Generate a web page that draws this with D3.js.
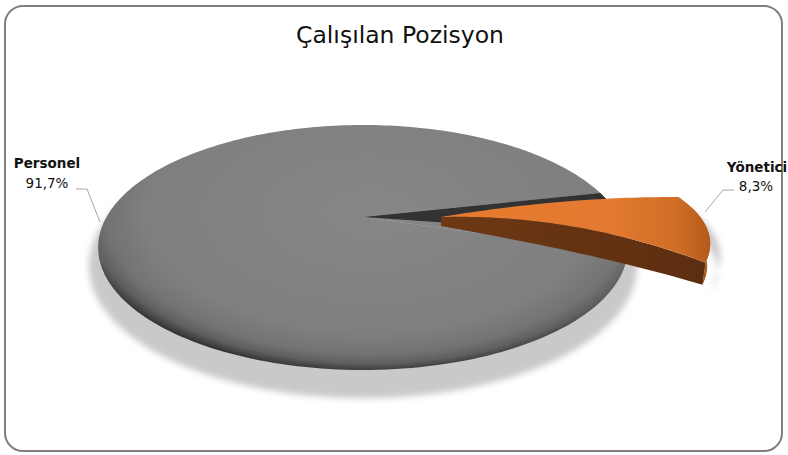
<!DOCTYPE html>
<html>
<head>
<meta charset="utf-8">
<script src="https://cdn.jsdelivr.net/npm/d3@7"></script>
<style>
  html, body { margin: 0; padding: 0; background: #ffffff; }
  svg { display: block; }
</style>
</head>
<body>
<svg id="chart" width="788" height="455"></svg>
<script>
// Position survey: share of respondents by job position
const chartTitle = "Çalışılan Pozisyon";
const categories = ["Personel", "Yönetici"];
const shares = [91.7, 8.3];

const svg = d3.select("#chart");
const defs = svg.append("defs");

// Tilted disc with perspective: (theta, r) on the unit disc -> screen
const A = 256.5, B = 114.9, K = 0.249;
function project(cx, cy, r, theta) {
  const u = r * Math.cos(theta), v = r * Math.sin(theta);
  const w = 1 - K * v;
  return [cx + A * u / w, cy + B * v / w];
}
function arcPoints(cx, cy, r, t0, t1, n) {
  const pts = [];
  for (let i = 0; i <= n; i++) pts.push(project(cx, cy, r, t0 + (t1 - t0) * i / n));
  return pts;
}
const line = d3.line();

// slice angles from d3.pie (0 = 12 o'clock, clockwise); theta = angle - 90deg
const start = 107.2 * Math.PI / 180;
const arcs = d3.pie().sort(null).startAngle(start).endAngle(start + 2 * Math.PI)(shares);
const toTheta = a => a - Math.PI / 2;

const grayC = [363, 217];
const orC = [441, 217];

// gray top shading: light toward the back, bevel darkening toward the front rim
const gGray = defs.append("radialGradient").attr("id", "grayTop")
  .attr("gradientUnits", "userSpaceOnUse")
  .attr("cx", 0).attr("cy", 0).attr("r", 1)
  .attr("gradientTransform", "translate(370,213) scale(300,160)");
[["0%", "#878787"], ["75%", "#7f7f7f"], ["88%", "#737373"], ["94%", "#5f5f5f"], ["98%", "#3f3f3f"], ["100%", "#2e2e2e"]]
  .forEach(([o, c]) => gGray.append("stop").attr("offset", o).attr("stop-color", c));

const gOr = defs.append("linearGradient").attr("id", "orTop").attr("x1", "0").attr("x2", "1").attr("y1", "0").attr("y2", "0");
[["0%", "#e77b2d"], ["62%", "#e37a30"], ["88%", "#d06d27"], ["100%", "#b35a1c"]]
  .forEach(([o, c]) => gOr.append("stop").attr("offset", o).attr("stop-color", c));

const gWall = defs.append("linearGradient").attr("id", "orWall").attr("x1", "0").attr("x2", "0").attr("y1", "0").attr("y2", "1");
[["0%", "#d06c24"], ["60%", "#c8661f"], ["100%", "#9a4c17"]]
  .forEach(([o, c]) => gWall.append("stop").attr("offset", o).attr("stop-color", c));

const gSide = defs.append("linearGradient").attr("id", "orSide").attr("x1", "0").attr("x2", "1").attr("y1", "0").attr("y2", "0");
[["0%", "#6e3814"], ["100%", "#5c2e10"]]
  .forEach(([o, c]) => gSide.append("stop").attr("offset", o).attr("stop-color", c));

defs.append("filter").attr("id", "soft").attr("x", "-10%").attr("y", "-10%").attr("width", "120%").attr("height", "130%")
  .append("feGaussianBlur").attr("stdDeviation", 3);
defs.append("filter").attr("id", "edge").append("feGaussianBlur").attr("stdDeviation", 0.6);

// chart frame
svg.append("rect").attr("x", 5).attr("y", 6).attr("width", 777).attr("height", 445)
  .attr("rx", 18).attr("ry", 18).attr("fill", "#ffffff")
  .attr("stroke", "#7f7f7f").attr("stroke-width", 2);

// title
svg.append("text").attr("x", 400).attr("y", 43).attr("text-anchor", "middle")
  .attr("font-family", "DejaVu Sans, sans-serif").attr("font-size", 23.5)
  .attr("fill", "#111").text(chartTitle);

const gT0 = toTheta(arcs[0].startAngle), gT1 = toTheta(arcs[0].endAngle);
const oT0 = toTheta(arcs[1].startAngle), oT1 = toTheta(arcs[1].endAngle);

// exploded slice: bevelled top face, bent slightly along its radius
function orTop(r, s) {
  const p = project(orC[0], orC[1], r, oT0 + (oT1 - oT0) * s);
  const dy = -(5 + 5 * s) * 4 * r * (1 - r) + 9 * s * r * r * r + 4 * (1 - s) * r;
  const dx = 7 * 4 * s * (1 - s) * Math.pow(r, 4);
  return [p[0] + dx, p[1] + dy];
}
const thick = r => 9 + 50 * r - 37 * r * r;
const orBottom = (r, s) => { const p = orTop(r, s); return [p[0] - 3 * r, p[1] + thick(r)]; };

// floor shadows
const shadow = svg.append("g").attr("filter", "url(#soft)").attr("fill", "#c9c9c9");
{
  const pts = [];
  for (let i = 0; i <= 180; i++) {
    const t = 2 * Math.PI * i / 180;
    const u = Math.cos(t), v = Math.sin(t), w = 1 - K * v;
    pts.push([363 + 1.035 * A * u / w, 233 + 1.08 * B * v / w]);
  }
  shadow.append("path").attr("d", line(pts) + "Z");
  const op = d3.range(0, 41).map(i => orBottom(1, i / 40)).map(p => [p[0] + 10, p[1] + 6]);
  const tp = d3.range(0, 41).map(i => orTop(1, i / 40)).map(p => [p[0] + 10, p[1] + 12]);
  shadow.append("path").attr("d", line([[orC[0] + 20, orC[1] + 30], ...tp, ...op.reverse()]) + "Z");
}

// Personel slice (the area under the pulled-out slice reads as the same body)
const gapPts = [grayC, ...arcPoints(grayC[0], grayC[1], 1, gT1, gT1 + (oT1 - oT0), 30)];
svg.append("path").attr("d", line(gapPts) + "Z").attr("fill", "url(#grayTop)");
const grayPts = [grayC, ...arcPoints(grayC[0], grayC[1], 1, gT0, gT1, 240)];
svg.append("path").attr("class", "slice").attr("d", line(grayPts) + "Z")
  .attr("fill", "url(#grayTop)");

// exposed cut face of the Personel slice
const darkEdge = gT1 + 0.72 * (oT1 - oT0);
svg.append("path")
  .attr("d", line([grayC, ...arcPoints(grayC[0], grayC[1], 1, gT1, darkEdge, 20)]) + "Z")
  .attr("fill", "#333333").attr("filter", "url(#edge)");

// Yönetici slice
const N = 40;
const topRim = d3.range(0, N + 1).map(i => orTop(1, i / N));
const botRim = d3.range(0, N + 1).map(i => orBottom(1, i / N));
svg.append("path").attr("d", line([...topRim, ...botRim.slice().reverse()]) + "Z")
  .attr("fill", "url(#orWall)");
{
  const side = d3.range(0, N + 1).map(i => orTop(i / N, 1));
  const base = d3.range(0, N + 1).map(i => orBottom(i / N, 1));
  svg.append("path").attr("d", line([...side, ...base.reverse()]) + "Z").attr("fill", "url(#orSide)");
}
{
  const upper = d3.range(0, N + 1).map(i => orTop(i / N, 0));
  const lower = d3.range(0, N + 1).map(i => orTop(i / N, 1)).reverse();
  svg.append("path").attr("class", "slice")
    .attr("d", line([...upper, ...topRim, ...lower]) + "Z").attr("fill", "url(#orTop)");
}

// labels with leader lines
const fmt = v => d3.format(".1f")(v).replace(".", ",") + "%";
const lab = svg.append("g").attr("font-family", "DejaVu Sans, sans-serif").attr("fill", "#111");
lab.append("text").attr("x", 47).attr("y", 168).attr("text-anchor", "middle")
  .attr("font-size", 13.5).attr("font-weight", "bold").text(categories[0]);
lab.append("text").attr("x", 47).attr("y", 188).attr("text-anchor", "middle")
  .attr("font-size", 13.5).text(fmt(shares[0]));
lab.append("text").attr("x", 757).attr("y", 172).attr("text-anchor", "middle")
  .attr("font-size", 13.5).attr("font-weight", "bold").text(categories[1]);
lab.append("text").attr("x", 756).attr("y", 191).attr("text-anchor", "middle")
  .attr("font-size", 13.5).text(fmt(shares[1]));

const lead = svg.append("g").attr("fill", "none").attr("stroke", "#a6a6a6").attr("stroke-width", 1);
lead.append("path").attr("d", line([[76, 189], [87, 189], [100, 222]]));
lead.append("path").attr("d", line([[734, 190], [723, 190], [705, 212]]));
</script>
</body>
</html>
